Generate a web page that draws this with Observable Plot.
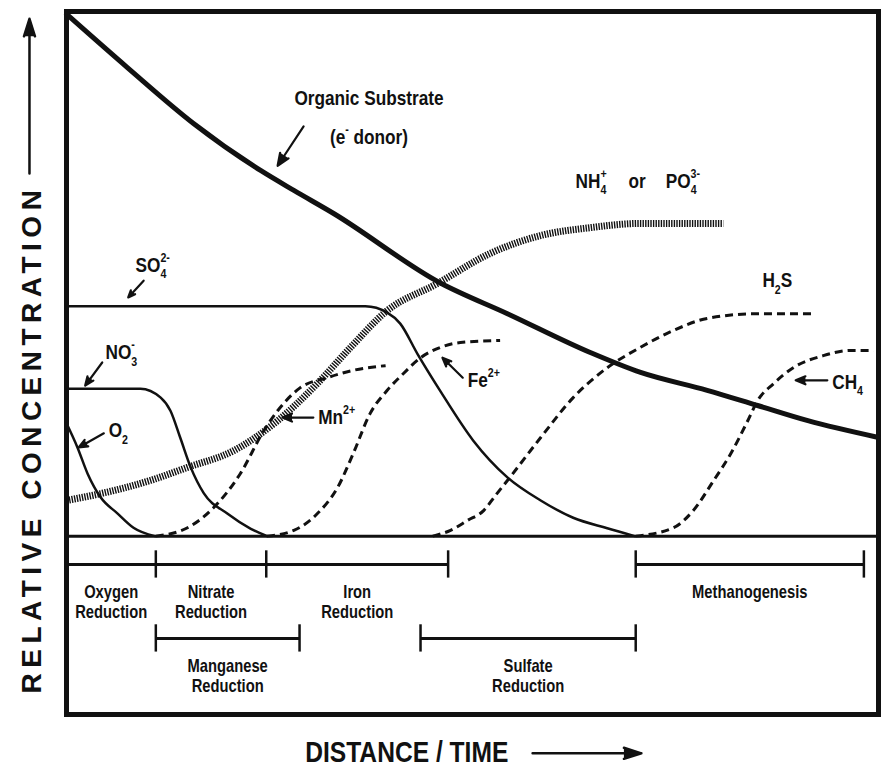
<!DOCTYPE html>
<html>
<head>
<meta charset="utf-8">
<script src="https://cdn.jsdelivr.net/npm/d3@7"></script>
<script src="https://cdn.jsdelivr.net/npm/@observablehq/plot@0.6"></script>
<style>
  body { margin: 0; background: #fff; }
  #chart svg { display: block; }
</style>
</head>
<body>
<div id="chart"></div>
<script>
// ---- Series values (distance 0-100, relative concentration 0-100) ----
const organic   = [[0,99.5],[7.5,89.3],[15.6,78.7],[23.9,69.7],[28.0,65.9],[32.9,61.5],[46.1,48.2],[54.3,42.4],[64.5,35.0],[70.7,31.2],[78.9,27.8],[85.1,24.9],[91.3,22.0],[100,18.8]];
const nutrient  = [[0,6.8],[4.2,8.1],[10.3,10.6],[14.9,13.1],[20.6,16.3],[26.0,22.0],[30.9,29.1],[35.0,36.0],[39.5,43.0],[45.5,48.0],[52.2,53.9],[58.4,57.3],[64.5,58.8],[70.7,59.6],[80.9,59.6]];
const oxygen    = [[0,21.5],[1.35,16.9],[2.6,11.9],[4.2,7.4],[6.3,4.3],[8.25,1.6],[10.9,0]];
const nitrate   = [[0,28.1],[9.1,28.1],[11.6,26.4],[12.8,23.9],[14.0,18.8],[15.3,13.1],[16.9,8.2],[19.8,4.3],[22.7,1.4],[24.7,0]];
const sulfate   = [[0,43.8],[36.8,43.8],[39.5,42.6],[41.1,40.5],[43.2,34.8],[46.1,27.5],[50.1,18.2],[54.3,11.2],[58.4,6.8],[62.4,3.5],[66.6,1.5],[70.0,0]];
const manganese = [[11,0],[14.9,1.6],[18.1,5.4],[21.4,11.9],[24.3,20.1],[26.0,23.9],[28.8,28.3],[32.1,30.2],[35.3,31.6],[39.3,32.5]];
const iron      = [[24.7,0],[28.0,1.1],[30.9,4.3],[33.4,9.3],[35.3,15.7],[37.4,23.4],[39.5,27.8],[41.5,31.0],[43.6,34.0],[46.1,36.0],[48.5,36.9],[53.4,37.3]];
const sulfide   = [[45.1,0],[47.3,1.1],[49.4,3.0],[51.4,4.9],[52.8,7.7],[54.3,10.6],[58.4,18.8],[62.4,26.4],[66.6,32.1],[70.7,36.0],[74.75,39.2],[78.9,41.5],[85.1,42.4],[92.0,42.4]];
const methane   = [[70.1,0],[74.75,1.6],[77.2,4.9],[79.7,10.6],[81.8,15.7],[83.9,22.0],[85.1,25.8],[87.1,29.1],[89.5,32.1],[93.2,34.4],[96.6,35.4],[99.4,35.4]];

// ---- Redox zones ----
const zoneNames = ["Oxygen\nReduction","Nitrate\nReduction","Iron\nReduction","Methanogenesis","Manganese\nReduction","Sulfate\nReduction"];
const zoneStart = [0, 11, 24.6, 70.1, 11, 43.6];
const zoneEnd   = [11, 24.6, 47, 98.2, 28.7, 70.1];
const zoneRow   = [1, 1, 1, 1, 2, 2];
const rowLevel  = {1: -5.4, 2: -19.5};

// ---- Species labels (markup: _{sub} ^{sup}) ----
const chemText = ["SO_{4}^{2-}","NO_{3}^{-}","O_{2}","Mn^{2+}","Fe^{2+}","CH_{4}","H_{2}S","NH_{4}^{+}","or","PO_{4}^{3-}"];
const chemX    = [8.5, 4.8, 5.2, 31.0, 49.4, 94.3, 85.7, 62.7, 69.2, 73.8];
const chemY    = [51.6, 35.0, 20.1, 22.6, 29.7, 29.3, 48.7, 67.7, 67.7, 67.7];
const organicText = ["Organic Substrate", "(e^{-} donor)"];
const organicLabelX = [37.25, 37.25];
const organicLabelY = [83.4, 76.0];

// ---- Pointer arrows (from -> to) ----
const pointerFrom = [[9.5,48.7],[4.4,33.1],[4.6,19.6],[30.4,22.6],[48.8,30.2],[93.7,29.7],[29.2,78.1]];
const pointerTo   = [[7.6,45.5],[2.3,28.7],[1.5,16.9],[26.6,22.6],[46.3,34.0],[89.8,29.7],[26.0,70.6]];

// ---- Axis titles ----
const yTitle = "RELATIVE CONCENTRATION";
const xTitle = "DISTANCE / TIME";

// build tables
const zones = zoneNames.map((name, i) => ({name, x1: zoneStart[i], x2: zoneEnd[i], row: zoneRow[i], y: rowLevel[zoneRow[i]]}));
const tickSet = new Map();
zones.forEach(z => {
  [z.x1, z.x2].forEach(x => { if (x > 0) tickSet.set(z.row + ":" + x, {x, y: z.y}); });
});
const ticks = [...tickSet.values()];
const chem = chemText.map((t, i) => ({t, x: chemX[i], y: chemY[i]}));
const orgLabels = organicText.map((t, i) => ({t, x: organicLabelX[i], y: organicLabelY[i]}));
const pointers = pointerFrom.map((f, i) => ({x1: f[0], y1: f[1], x2: pointerTo[i][0], y2: pointerTo[i][1]}));
const titleArrows = [
  {x1: -4.56, y1: 69.1, x2: -4.56, y2: 98.6},
  {x1: 57.4, y1: -41.4, x2: 70.8, y2: -41.4}
];

const sans = "'Liberation Sans',Arial,Helvetica,sans-serif";
const solid = {x: d => d[0], y: d => d[1], curve: "monotone-x", stroke: "#111", strokeWidth: 2.5};
const dashed = {x: d => d[0], y: d => d[1], curve: "monotone-x", stroke: "#111", strokeWidth: 3, strokeDasharray: "8,5", strokeLinecap: "butt"};

const svg = Plot.plot({
  width: 881,
  height: 769,
  marginLeft: 66,
  marginRight: 3,
  marginTop: 11,
  marginBottom: 55,
  x: {domain: [0, 100], axis: null},
  y: {domain: [-34, 100], axis: null},
  style: {background: "#fff", color: "#111", fontFamily: sans},
  marks: [
    Plot.frame({stroke: "#111", strokeWidth: 5}),
    Plot.ruleY([0], {stroke: "#111", strokeWidth: 3}),
    // nutrient (hatched)
    Plot.line(nutrient, {x: d => d[0], y: d => d[1], curve: "monotone-x", stroke: "#111", strokeWidth: 7, strokeDasharray: "1.4,1.2", strokeLinecap: "butt"}),
    Plot.line(organic, {...solid, strokeWidth: 5}),
    Plot.line(oxygen, solid),
    Plot.line(nitrate, solid),
    Plot.line(sulfate, solid),
    Plot.line(manganese, dashed),
    Plot.line(iron, dashed),
    Plot.line(sulfide, dashed),
    Plot.line(methane, dashed),
    // zones
    Plot.ruleY(zones, {y: "y", x1: "x1", x2: "x2", stroke: "#111", strokeWidth: 3}),
    Plot.ruleX(ticks, {x: "x", y1: d => d.y - 2.6, y2: d => d.y + 2.6, stroke: "#111", strokeWidth: 2.5}),
    Plot.text(zones, {x: d => (d.x1 + d.x2) / 2, y: d => d.y - 3.6, text: "name", lineAnchor: "top", lineHeight: 1.12, fontSize: 18, fontWeight: "bold", fontFamily: sans, fill: "#111"}),
    // labels
    Plot.arrow(pointers, {x1: "x1", y1: "y1", x2: "x2", y2: "y2", stroke: "#111", fill: "#111", strokeWidth: 2.2, headLength: 9, headAngle: 45}),
    Plot.text(chem, {x: "x", y: "y", text: "t", textAnchor: "start", fontSize: 21, fontWeight: "bold", fontFamily: sans, fill: "#111"}),
    Plot.text(orgLabels, {x: "x", y: "y", text: "t", textAnchor: "middle", fontSize: 21, fontWeight: "bold", fontFamily: sans, fill: "#111"}),
    // axis titles
    Plot.text([yTitle], {x: -4.19, y: 18.5, text: d => d, rotate: -90, fontSize: 28, fontWeight: "bold", fontFamily: sans, fill: "#111"}),
    Plot.text([xTitle], {x: 41.9, y: -41.2, text: d => d, fontSize: 30, fontWeight: "bold", fontFamily: sans, fill: "#111"}),
    Plot.arrow(titleArrows, {x1: "x1", y1: "y1", x2: "x2", y2: "y2", stroke: "#111", fill: "#111", strokeWidth: 2.5, headLength: 11, headAngle: 35})
  ]
});
document.getElementById("chart").append(svg);

// rich text: subscripts/superscripts
const NS = "http://www.w3.org/2000/svg";
function richify(el) {
  const s = el.textContent;
  const fs = parseFloat(getComputedStyle(el).fontSize) || 20;
  const tokens = s.match(/_\{[^}]*\}|\^\{[^}]*\}|[^_^]+/g) || [];
  el.textContent = "";
  let shift = 0, lastSub = null;
  for (const tok of tokens) {
    const ts = document.createElementNS(NS, "tspan");
    let kind = "n", txt = tok, target = 0;
    if (tok.startsWith("_{")) { kind = "sub"; txt = tok.slice(2, -1); target = 0.3 * fs; }
    else if (tok.startsWith("^{")) { kind = "sup"; txt = tok.slice(2, -1); target = -0.48 * fs; }
    ts.textContent = txt;
    if (kind !== "n") ts.setAttribute("font-size", (0.62 * fs).toFixed(1));
    if (target !== shift) ts.setAttribute("dy", (target - shift).toFixed(2));
    shift = target;
    el.appendChild(ts);
    if (kind === "sup" && lastSub) ts.setAttribute("dx", (-lastSub.getComputedTextLength()).toFixed(2));
    lastSub = kind === "sub" ? ts : null;
  }
}
// condense horizontal labels (narrow typeface look); position comes from the transform
function squeeze(el, k) {
  const tr = el.getAttribute("transform") || "";
  el.setAttribute("transform", `${tr} scale(${k},1)`);
}
d3.select(svg).selectAll("text").each(function () {
  const t = this.textContent;
  if (/[_^]\{/.test(t)) richify(this);
  if (t === yTitle) { this.setAttribute("letter-spacing", "5.5"); return; }
  squeeze(this, 0.82);
});
d3.select(svg).selectAll("g[aria-label='arrow'] path").attr("fill", "#111").attr("stroke-linejoin", "miter");
</script>
</body>
</html>
